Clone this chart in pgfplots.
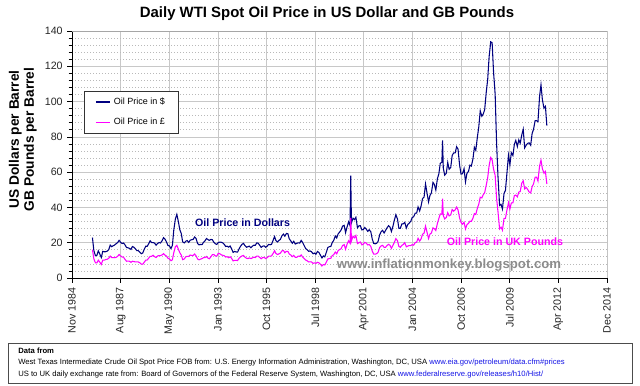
\documentclass[border=0pt]{standalone}
\usepackage{fontspec}
\setmainfont{Liberation Sans}
\usepackage{pgfplots}
\usepackage{pgfplotstable}
\pgfplotsset{compat=1.18}
\definecolor{navyline}{RGB}{0,0,128}
\definecolor{magline}{RGB}{255,0,255}
\definecolor{gridmaj}{RGB}{200,200,200}
\definecolor{gridmin}{RGB}{185,185,185}
\definecolor{wm}{RGB}{140,140,140}
\definecolor{linkc}{RGB}{20,20,230}

\pgfplotstableread{
t usd gbp
1986.02 22.93 16.1
1986.10 15.46 10.8
1986.19 12.61 8.6
1986.27 12.84 8.6
1986.35 15.38 10.1
1986.44 13.43 8.9
1986.52 11.59 7.7
1986.60 15.10 10.1
1986.69 14.87 10.1
1986.77 14.90 10.5
1986.85 15.22 10.6
1986.94 16.11 11.2
1987.02 18.65 12.4
1987.10 17.75 11.6
1987.19 18.30 11.6
1987.27 18.68 11.5
1987.35 19.44 11.7
1987.44 20.07 12.3
1987.52 21.34 13.3
1987.60 20.31 12.6
1987.69 19.53 11.9
1987.77 19.86 11.8
1987.85 18.85 10.6
1987.94 17.28 9.5
1988.02 17.13 9.6
1988.10 16.80 9.5
1988.19 16.20 8.9
1988.27 17.86 9.5
1988.35 17.42 9.3
1988.44 16.53 9.1
1988.52 15.50 9.1
1988.60 15.52 9.1
1988.69 14.54 8.6
1988.77 13.77 7.9
1988.85 14.14 7.8
1988.94 16.38 9.0
1989.02 18.02 10.1
1989.10 17.94 10.2
1989.19 19.48 11.3
1989.27 21.07 12.3
1989.35 20.12 12.3
1989.44 20.05 12.9
1989.52 19.78 12.1
1989.60 18.58 11.6
1989.69 19.59 12.5
1989.77 20.10 12.7
1989.85 19.86 12.7
1989.94 21.10 13.1
1990.02 22.86 13.8
1990.10 22.11 13.0
1990.19 20.39 12.4
1990.27 18.43 11.2
1990.35 18.20 10.8
1990.44 16.70 9.8
1990.52 18.45 10.3
1990.60 27.31 14.4
1990.69 33.51 17.8
1990.77 36.04 18.5
1990.85 32.33 16.5
1990.94 27.28 14.3
1991.02 25.23 13.0
1991.10 20.48 10.4
1991.19 19.90 10.8
1991.27 20.83 12.0
1991.35 21.23 12.3
1991.44 20.19 12.2
1991.52 21.40 13.0
1991.60 21.69 12.8
1991.69 21.89 12.7
1991.77 23.23 13.6
1991.85 22.46 12.6
1991.94 19.50 10.8
1992.02 18.79 10.3
1992.10 19.01 10.7
1992.19 18.92 11.0
1992.27 20.23 11.5
1992.35 20.98 11.5
1992.44 22.39 12.2
1992.52 21.78 11.3
1992.60 21.34 10.9
1992.69 21.88 12.1
1992.77 21.69 13.2
1992.85 20.34 13.3
1992.94 19.41 12.5
1993.02 19.03 12.4
1993.10 20.09 14.0
1993.19 20.32 13.8
1993.27 20.25 13.1
1993.35 19.95 12.9
1993.44 19.09 12.6
1993.52 17.89 11.9
1993.60 18.01 12.1
1993.69 17.50 11.5
1993.77 18.15 12.0
1993.85 16.61 11.2
1993.94 14.52 9.7
1994.02 15.03 10.0
1994.10 14.78 10.0
1994.19 14.68 9.9
1994.27 16.42 11.1
1994.35 17.89 11.9
1994.44 19.06 12.5
1994.52 19.66 12.8
1994.60 18.38 11.9
1994.69 17.45 11.2
1994.77 17.72 11.0
1994.85 18.07 11.4
1994.94 17.16 11.0
1995.02 18.04 11.4
1995.10 18.57 11.8
1995.19 18.54 11.6
1995.27 19.90 12.4
1995.35 19.74 12.4
1995.44 18.45 11.6
1995.52 17.33 10.9
1995.60 18.02 11.6
1995.69 18.23 11.7
1995.77 17.43 11.0
1995.85 17.99 11.5
1995.94 19.03 12.4
1996.02 18.85 12.4
1996.10 19.09 12.5
1996.19 21.33 13.9
1996.27 23.50 15.5
1996.35 21.17 13.9
1996.44 20.42 13.3
1996.52 21.30 13.7
1996.60 21.90 14.1
1996.69 23.97 15.4
1996.77 24.88 15.6
1996.85 23.71 14.3
1996.94 25.23 15.1
1997.02 25.13 15.1
1997.10 22.18 13.6
1997.19 20.97 13.0
1997.27 19.70 12.1
1997.35 20.82 12.8
1997.44 19.26 11.7
1997.52 19.66 11.7
1997.60 19.95 12.4
1997.69 19.80 12.3
1997.77 21.33 13.1
1997.85 20.19 11.9
1997.94 18.33 11.0
1998.02 16.72 10.2
1998.10 16.06 9.8
1998.19 15.12 9.1
1998.27 15.35 9.2
1998.35 14.91 9.1
1998.44 13.72 8.3
1998.52 14.17 8.6
1998.60 13.47 8.3
1998.69 15.03 8.9
1998.77 14.46 8.6
1998.85 13.00 7.8
1998.94 11.35 6.8
1999.02 12.52 7.6
1999.10 12.01 7.4
1999.19 14.68 9.1
1999.27 17.31 10.8
1999.35 17.72 11.0
1999.44 17.92 11.2
1999.52 20.10 12.7
1999.60 21.28 13.2
1999.69 23.80 14.7
1999.77 22.69 13.7
1999.85 25.00 15.5
1999.94 26.10 16.2
2000.02 27.26 16.6
2000.10 29.37 18.4
2000.19 29.84 18.9
2000.27 25.72 16.3
2000.35 28.79 19.1
2000.44 31.82 21.1
2000.52 29.70 19.7
2000.56 58.00 34.0
2000.60 31.26 21.0
2000.69 33.88 23.7
2000.77 33.11 22.8
2000.85 34.42 24.1
2000.94 28.44 19.5
2001.02 29.59 20.0
2001.10 29.61 20.4
2001.19 27.25 18.8
2001.27 27.49 19.2
2001.35 28.63 20.2
2001.44 27.60 19.7
2001.52 26.43 18.7
2001.60 27.37 19.0
2001.69 26.20 17.9
2001.77 22.17 15.3
2001.85 19.64 13.6
2001.94 19.39 13.5
2002.02 19.72 13.8
2002.10 20.72 14.6
2002.19 24.53 17.3
2002.27 26.18 18.2
2002.35 27.04 18.5
2002.44 25.52 17.4
2002.52 26.97 17.4
2002.60 28.39 18.4
2002.69 29.66 19.1
2002.77 28.84 18.5
2002.85 26.35 16.8
2002.94 29.46 18.6
2003.02 32.95 20.3
2003.10 35.83 22.3
2003.19 33.51 21.2
2003.27 28.17 17.9
2003.35 28.11 17.4
2003.44 30.66 18.5
2003.52 30.75 19.0
2003.60 31.57 20.0
2003.69 28.31 17.7
2003.77 30.34 18.1
2003.85 31.11 18.4
2003.94 32.13 18.4
2004.02 34.31 18.9
2004.10 34.69 18.6
2004.19 36.74 20.1
2004.27 36.75 20.3
2004.35 40.28 22.5
2004.44 38.03 20.9
2004.52 40.78 22.2
2004.60 44.90 24.7
2004.69 45.94 25.5
2004.77 53.28 29.4
2004.85 48.47 26.1
2004.94 43.15 22.4
2005.02 46.84 24.9
2005.10 48.15 25.5
2005.19 54.19 28.4
2005.27 52.98 27.9
2005.35 49.83 26.9
2005.44 56.35 31.0
2005.52 59.00 33.7
2005.60 64.99 36.3
2005.69 65.59 36.2
2005.73 78.00 45.0
2005.77 62.26 35.4
2005.85 58.32 33.5
2005.94 59.41 34.3
2006.02 65.49 37.0
2006.10 61.63 35.2
2006.19 62.69 35.8
2006.27 69.44 38.8
2006.35 70.84 37.9
2006.44 70.95 38.6
2006.52 74.41 40.2
2006.60 73.04 38.6
2006.69 63.80 33.9
2006.77 58.89 31.5
2006.85 59.08 30.5
2006.94 61.96 31.6
2007.02 54.51 27.8
2007.10 59.28 30.2
2007.19 60.44 31.0
2007.27 63.98 32.2
2007.35 63.46 32.1
2007.44 67.49 33.9
2007.52 74.12 36.5
2007.60 72.36 36.0
2007.69 79.92 39.6
2007.77 85.80 41.9
2007.85 94.77 45.8
2007.94 91.69 45.4
2008.02 92.97 47.2
2008.10 95.39 48.4
2008.19 105.45 52.7
2008.27 112.58 56.9
2008.35 125.40 63.7
2008.44 133.88 68.3
2008.52 133.37 67.0
2008.60 116.67 61.7
2008.69 104.11 58.2
2008.77 76.61 45.3
2008.85 57.31 37.5
2008.94 41.12 27.8
2009.02 41.71 28.8
2009.10 39.09 27.1
2009.19 47.94 33.8
2009.27 49.65 33.8
2009.35 59.03 38.3
2009.44 69.64 42.7
2009.52 64.15 39.1
2009.60 71.05 42.5
2009.69 69.41 42.6
2009.77 75.72 46.7
2009.85 77.99 47.0
2009.94 74.47 46.0
2010.02 78.33 48.7
2010.10 76.39 49.0
2010.19 81.20 53.8
2010.27 84.29 55.1
2010.35 73.74 50.5
2010.44 75.34 51.3
2010.52 76.32 50.2
2010.60 76.60 48.8
2010.69 75.24 48.2
2010.77 81.89 51.8
2010.85 84.25 53.3
2010.94 89.15 57.1
2011.02 89.17 57.2
2011.10 88.58 55.0
2011.19 102.86 63.5
2011.27 109.53 66.8
2011.35 100.90 61.9
2011.44 96.26 59.4
2011.52 97.30 60.4
2011.60 86.33 53.3
}\oildata

\begin{document}
\begin{tikzpicture}
\path[fill=white,use as bounding box] (0,0) rectangle (480pt,289.5pt);
\node[font=\bfseries\fontsize{11.2}{13}\selectfont] at (245.25pt,279pt) {Daily WTI Spot Oil Price in US Dollar and GB Pounds};
\node[rotate=90, align=center, font=\bfseries\fontsize{10.3}{11.25}\selectfont] at (17.2pt,185pt) {US Dollars per Barrel\\GB Pounds per Barrel};
\begin{axis}[
  at={(54pt,81pt)}, anchor=south west, scale only axis,
  width=401.25pt, height=185.25pt,
  xmin=1984.869, xmax=2014.986, ymin=0, ymax=140,
  xtick={1984.869,1987.607,1990.345,1993.083,1995.821,1998.559,2001.297,2004.034,2006.772,2009.510,2012.248,2014.986},
  xticklabels={Nov 1984,Aug 1987,May 1990,Jan 1993,Oct 1995,Jul 1998,Apr 2001,Jan 2004,Oct 2006,Jul 2009,Apr 2012,Dec 2014},
  minor x tick num=4,
  ytick={0,20,...,140}, minor y tick num=4,
  xmajorgrids, ymajorgrids, yminorgrids,
  major grid style={gridmaj, line width=0.5pt},
  minor grid style={gridmin, line width=0.5pt, dash pattern=on 0.75pt off 1.5pt},
  axis x line*=bottom, axis y line*=left,
  axis line style={black, line width=0.6pt, -},
  tick align=outside, tick style={black, line width=0.5pt},
  major tick length=3.5pt, minor tick length=2.5pt,
  tick label style={font=\fontsize{8}{9}\selectfont, text=black!85},
  xticklabel style={rotate=90, anchor=east},
  /pgf/number format/assume math mode=true,
  legend style={at={(0.0224,0.759)}, anchor=north west, draw=black!80, line width=0.6pt,
    font=\fontsize{6.75}{8}\selectfont, inner xsep=8pt, inner ysep=3pt, row sep=5pt},
  legend cell align=left,
  legend image code/.code={\draw[#1,line width=1.1pt] (0pt,0pt) -- (11pt,0pt);},
]
\draw[gray!70, line width=0.6pt] (rel axis cs:0,1) -- (rel axis cs:1,1) -- (rel axis cs:1,0);
\addplot[navyline, line width=0.8pt] table[x=t,y=usd]{\oildata};
\addlegendentry{Oil Price in \$}
\addplot[magline, line width=0.8pt] table[x=t,y=gbp]{\oildata};
\addlegendentry{Oil Price in £}
\node[font=\bfseries\fontsize{8}{9}\selectfont, text=navyline] at (axis cs:1994.47,31.6) {Oil Price in Dollars};
\node[font=\bfseries\fontsize{8}{9}\selectfont, text=magline] at (axis cs:2009.24,20.4) {Oil Price in UK Pounds};
\node[font=\bfseries\fontsize{9.9}{11}\selectfont, text=wm] at (axis cs:2006.09,7.4) {www.inflationmonkey.blogspot.com};
\end{axis}
\draw[black!70, line width=0.6pt] (6pt,2.25pt) rectangle (474pt,32.25pt);
\node[anchor=west, inner sep=0pt, font=\bfseries\fontsize{5.75}{6.5}\selectfont] at (13.5pt,26.25pt) {Data from};
\node[anchor=west, inner sep=0pt, font=\fontsize{5.75}{6.5}\selectfont] at (13.5pt,17.25pt) {West Texas Intermediate Crude Oil Spot Price FOB from: U.S. Energy Information Administration, Washington, DC, USA \textcolor{linkc}{www.eia.gov/petroleum/data.cfm\#prices}};
\node[anchor=west, inner sep=0pt, font=\fontsize{5.75}{6.5}\selectfont] at (13.5pt,8.25pt) {US to UK daily exchange rate from: Board of Governors of the Federal Reserve System, Washington, DC, USA \textcolor{linkc}{www.federalreserve.gov/releases/h10/Hist/}};
\end{tikzpicture}
\end{document}
